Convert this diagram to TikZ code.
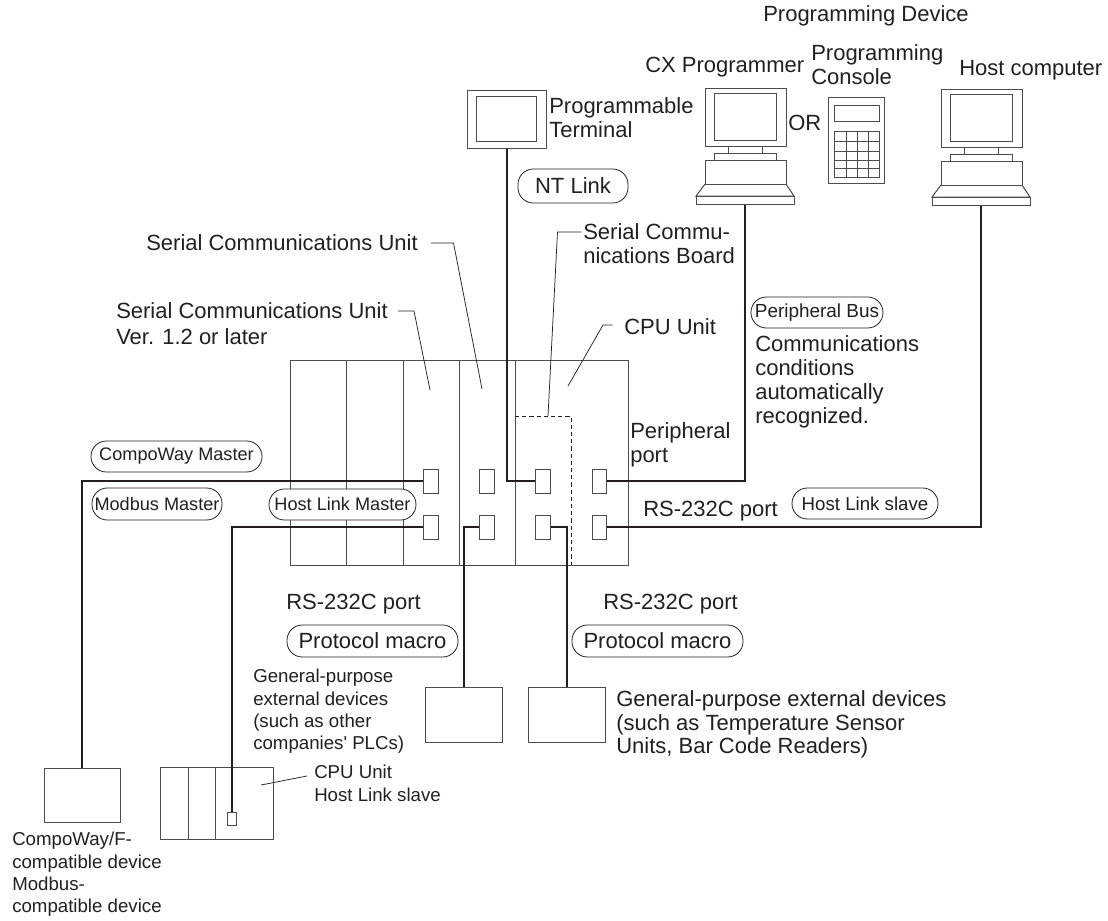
\documentclass[tikz,border=0pt]{standalone}
\usepackage{fontspec}
\setmainfont{Liberation Sans}
\usepackage{xcolor}
\usepackage{tikz}
\usetikzlibrary{arrows.meta, positioning, fit, calc, shapes.geometric}
\newcommand{\pu}{0.75pt}
\definecolor{inkdark}{HTML}{231F20}
\begin{document}
\begin{tikzpicture}[
  x=\pu, y=-\pu,
  every node/.style={text=inkdark},
  wire/.style={draw=inkdark, line width=1.5pt},
  leader/.style={draw=inkdark, line width=0.55pt},
  outline/.style={draw=black!70, line width=0.75pt},
  boardline/.style={draw=inkdark, line width=0.6pt, dash pattern=on 3.2pt off 2.2pt},
  port/.style={outline, fill=white, inner sep=0pt, minimum width=14.5*\pu, minimum height=24*\pu},
  devbox/.style={outline, fill=white, inner sep=0pt},
  pill/.style={draw=inkdark, line width=0.6pt, fill=white, rounded corners=11.5pt, inner sep=0pt, align=center},
  biglabel/.style={anchor=west, inner sep=0pt, align=left, font=\fontsize{16.5}{18}\selectfont},
  smalllabel/.style={anchor=west, inner sep=0pt, align=left, font=\fontsize{14}{16.8}\selectfont},
  midpill/.style={pill, font=\fontsize{13.6}{16}\selectfont}
]
\useasboundingbox (0,0) rectangle (1108,921);
\node[outline, inner sep=0pt, minimum width=338*\pu, minimum height=205*\pu] (plc) at (459,462.5) {};
\foreach \x in {346,403,459,515} \draw[outline] (\x,360) -- (\x,565);
\draw[boardline] (515,416) -- (571,416) -- (571,565);
\foreach \n/\x in {a/431,b/487,c/543,d/599.5} {
  \node[port] (\n1) at (\x,481) {};
  \node[port] (\n2) at (\x,527) {};
}
\node[devbox, minimum width=79*\pu, minimum height=58*\pu] (terminal) at (506.5,119) {};
\node[outline, inner sep=0pt, minimum width=60*\pu, minimum height=45*\pu] (terminalScreen) at (506,118.5) {};
\foreach \n/\dx/\dy in {pc/0/0,host/236/1} {
  \begin{scope}[shift={(\dx,\dy)}]
    \node[devbox, minimum width=81*\pu, minimum height=58*\pu] (\n Monitor) at (745.5,117) {};
    \node[outline, inner sep=0pt, minimum width=62*\pu, minimum height=47*\pu] (\n Screen) at (745,116.5) {};
    \draw[outline] (728,146) rectangle (762,153);
    \draw[outline] (714,153) rectangle (776,160);
    \node[devbox, minimum width=81*\pu, minimum height=24*\pu] (\n Body) at (745.5,172) {};
    \draw[outline] (705,184) -- (696,196) -- (794,196) -- (786,184);
    \node[devbox, minimum width=98*\pu, minimum height=8*\pu] (\n Keys) at (745,200) {};
  \end{scope}
}
\node[devbox, minimum width=56*\pu, minimum height=86*\pu] (console) at (856,140) {};
\node[outline, inner sep=0pt, minimum width=45*\pu, minimum height=16*\pu] (consoleDisplay) at (856.5,113) {};
\node[outline, inner sep=0pt, minimum width=45*\pu, minimum height=46*\pu] (consoleKeys) at (856.5,154) {};
\foreach \x in {846,857,868} \draw[outline] (\x,131) -- (\x,177);
\foreach \y in {141,151,160,168} \draw[outline] (834,\y) -- (879,\y);
\node[devbox, minimum width=76*\pu, minimum height=54*\pu] (compoDevice) at (82,795) {};
\node[devbox, minimum width=77*\pu, minimum height=55*\pu] (plcDevice) at (463.5,714.5) {};
\node[devbox, minimum width=77*\pu, minimum height=55*\pu] (sensorDevice) at (566.5,714.5) {};
\node[outline, inner sep=0pt, minimum width=113*\pu, minimum height=72*\pu] (slavePlc) at (216.5,803) {};
\foreach \x in {188,215} \draw[outline] (\x,767) -- (\x,839);
\node[port, minimum width=9*\pu, minimum height=13*\pu] (slavePort) at (231.5,818.5) {};
\draw[wire] (a1.west) -| (compoDevice.north);
\draw[wire] (a2.west) -| (slavePort.north);
\draw[wire] (b2.west) -| (plcDevice.north);
\draw[wire] (c2.east) -| (sensorDevice.north);
\draw[wire] (terminal.south) |- (c1.west);
\draw[wire] (d1.east) -| (pcKeys.south);
\draw[wire] (d2.east) -| (hostKeys.south);
\node[midpill, minimum width=171*\pu, minimum height=31*\pu] (compoPill) at (176.5,456.5) {CompoWay Master};
\node[midpill, minimum width=130*\pu, minimum height=32*\pu] (modbusPill) at (157,504) {Modbus Master};
\node[midpill, minimum width=147*\pu, minimum height=31*\pu] (masterPill) at (342.5,504.5) {Host Link Master};
\node[pill, font=\fontsize{14}{16}\selectfont, minimum width=146*\pu, minimum height=31*\pu] (slavePill) at (865,503.5) {Host Link slave};
\node[pill, font=\fontsize{16.5}{20}\selectfont, minimum width=171*\pu, minimum height=32*\pu] (macroLeftPill) at (372.5,641) {Protocol macro};
\node[pill, font=\fontsize{16.5}{20}\selectfont, minimum width=171*\pu, minimum height=32*\pu] (macroRightPill) at (657.5,641) {Protocol macro};
\node[pill, font=\fontsize{16.5}{20}\selectfont, minimum width=110*\pu, minimum height=34*\pu] (ntPill) at (573,186) {NT Link};
\node[pill, font=\fontsize{14.2}{16}\selectfont, minimum width=132*\pu, minimum height=31*\pu] (busPill) at (817,312.5) {Peripheral Bus};
\node[biglabel] (deviceLabel) at (763,16) {Programming Device};
\node[biglabel] (cxLabel) at (645,67) {CX Programmer};
\node[biglabel] (consoleLabel) at (811,65) {Programming\\Console};
\node[biglabel] (hostLabel) at (959,70) {Host computer};
\node[biglabel] (orLabel) at (788,123) {OR};
\node[biglabel] (terminalLabel) at (549,117.5) {Programmable\\Terminal};
\node[biglabel] (scuLabel) at (146,243) {Serial Communications Unit};
\node[biglabel, font=\fontsize{16.5}{19.5}\selectfont] (scuVerLabel) at (116,324) {Serial Communications Unit\\Ver. 1.2 or later};
\node[biglabel] (boardLabel) at (583,244) {Serial Commu-\\nications Board};
\node[biglabel] (cpuLabel) at (624,327) {CPU Unit};
\node[biglabel] (commLabel) at (755,382) {Communications\\conditions\\automatically\\recognized.};
\node[biglabel] (periLabel) at (630,445) {Peripheral\\port};
\node[biglabel] (rsSlaveLabel) at (643,511) {RS-232C port};
\node[biglabel] (rsLeftLabel) at (286,604) {RS-232C port};
\node[biglabel] (rsRightLabel) at (603,604) {RS-232C port};
\node[biglabel, font=\fontsize{16.5}{17.6}\selectfont] (sensorLabel) at (616,724.5) {General-purpose external devices\\(such as Temperature Sensor\\Units, Bar Code Readers)};
\node[smalllabel] (otherLabel) at (253,711.5) {General-purpose\\external devices\\(such as other\\companies\textquotesingle{} PLCs)};
\node[smalllabel] (slaveLabel) at (314,783.5) {CPU Unit\\Host Link slave};
\node[smalllabel] (compoLabel) at (12,874.5) {CompoWay/F-\\compatible device\\Modbus-\\compatible device};
\coordinate (scuTip) at (482,389);
\coordinate (scuVerTip) at (430,390);
\coordinate (boardTip) at (548,416);
\coordinate (cpuTip) at (568,386);
\coordinate (slaveTip) at (261,785);
\draw[leader] (431,243) -- (453.5,243) -- (scuTip);
\draw[leader] (398,311) -- (414,311) -- (scuVerTip);
\draw[leader] (581,232) -- (557.5,232) -- (boardTip);
\draw[leader] (612.6,325) -- (603,325) -- (cpuTip);
\draw[leader] (307,776) -- (slaveTip);
\end{tikzpicture}
\end{document}
